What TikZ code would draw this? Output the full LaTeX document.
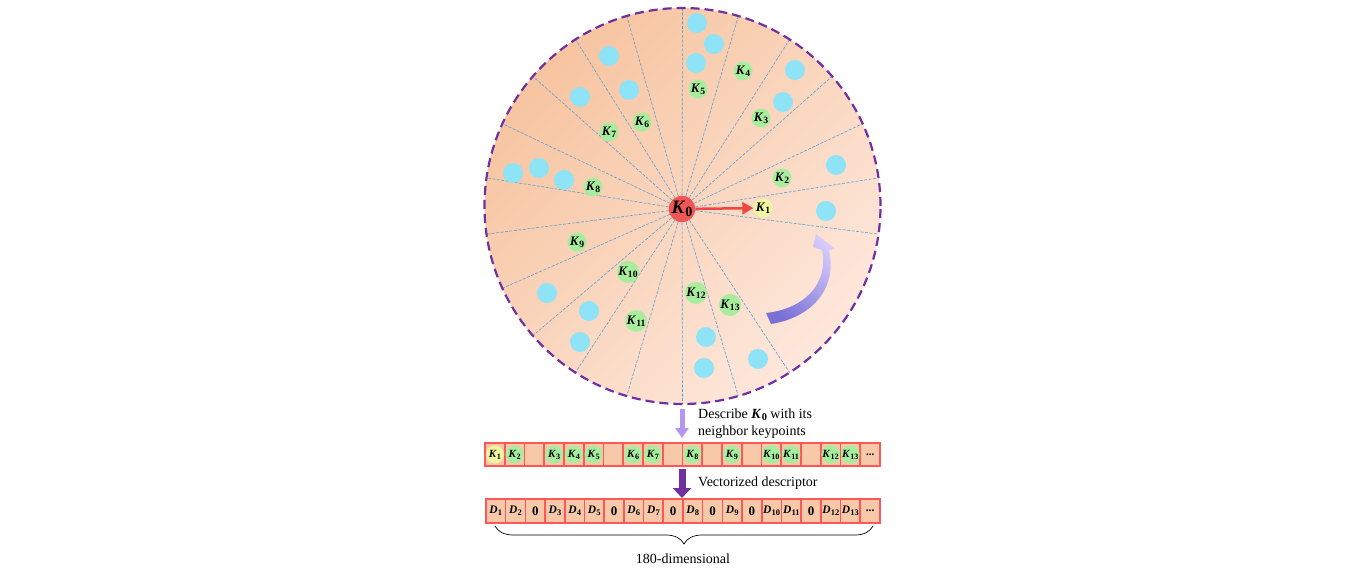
\documentclass[tikz,border=0pt]{standalone}
\usepackage{fontspec}
\usepackage{graphicx}
\setmainfont{Liberation Serif}
\usetikzlibrary{arrows.meta,decorations.pathreplacing,calc}
\definecolor{peachA}{HTML}{F7C4A0}
\definecolor{peachB}{HTML}{FDE8DC}
\definecolor{rimc}{HTML}{7030A0}
\definecolor{secc}{HTML}{5B9BD5}
\definecolor{bluec}{HTML}{8EE3F7}
\definecolor{greenc}{HTML}{A8ED9E}
\definecolor{yellowc}{HTML}{F0F5A0}
\definecolor{redc}{HTML}{F25555}
\definecolor{redarrc}{HTML}{F04545}
\definecolor{cellfill}{HTML}{F8C9A8}
\definecolor{cellrim}{HTML}{FF5757}
\definecolor{lilac}{HTML}{B596F2}
\definecolor{arcdark}{HTML}{7A70D6}
\definecolor{arclight}{HTML}{D6CBFB}
\newcommand{\subs}[1]{\kern0.2pt\raisebox{-0.4ex}{\scalebox{0.74}{\textbf{#1}}}}
\newcommand{\KL}[1]{\textbf{\textit{K}}\subs{#1}}
\newcommand{\DL}[1]{\textbf{\textit{D}}\subs{#1}}
\newcommand{\ZL}{{\fontsize{13}{13}\selectfont\textbf{0}}}
\begin{document}
\begin{tikzpicture}[x=1pt,y=-1pt,
  secline/.style={secc, line width=0.6pt, dash pattern=on 3pt off 1.5pt},
  bdot/.style={circle, fill=bluec, minimum size=20pt, inner sep=0pt},
  gdot/.style={circle, fill=greenc, minimum size=19pt, inner sep=0pt, font=\fontsize{13}{13}\selectfont},
  ydot/.style={gdot, fill=yellowc},
  kzero/.style={circle, fill=redc, minimum size=24pt, inner sep=0pt, font=\fontsize{19}{19}\selectfont},
  cellbox/.style={rectangle, draw=cellrim, fill=cellfill, line width=1.6pt, minimum width=19.75pt, inner sep=0pt, font=\fontsize{11.5}{11.5}\selectfont},
  gbar/.style={circle, fill=greenc, minimum size=18pt, inner sep=0pt, font=\fontsize{11}{11}\selectfont},
  ybar/.style={gbar, fill=yellowc},
  txt/.style={font=\fontsize{14}{17}\selectfont, inner sep=0pt}
]
\useasboundingbox (0,0) rectangle (1368,569);
\coordinate (C) at (682.5,206);
\coordinate (k0c) at (682,209);
% disc
\shade[top color=peachA, bottom color=peachB, shading angle=45] (C) circle (198pt);
% sector lines
\foreach \a in {90,73.64,57.27,40.91,24.55,8.18,-8.18,-57.27,-73.64,-90,-106.36,-122.73,-139.09,-155.45,-171.82,171.82,155.45,139.09,122.73,106.36}
  \draw[secline] (k0c) -- ($(C)+(-\a:198)$);
\draw[rimc, line width=2.2pt, dash pattern=on 9pt off 5pt] (C) circle (198pt);
% blue dots
\foreach \x/\y [count=\i] in {697/23,714/44,696/63,609/56,629/90,580/97,795/70,783/102,836/165,826/211,513/173,539/168,564/180,547/293,589/311,580/342,706/337,704/368,758/359}
  \node[bdot] (bd\i) at (\x,\y) {};
% keypoints
\node[ydot] (k1) at (763,208) {\KL{1}};
\foreach \x/\y/\n in {782/178/2,761/118/3,743/71/4,698/89/5,642/122/6,609/132/7,593/187/8,577/242/9,628/272/10,636/321/11,696/293/12,730/305/13}
  \node[gdot] (k\n) at (\x,\y) {\KL{\n}};
\node[kzero] (K0) at (k0c) {\KL{0}};
\draw[redarrc, line width=2.5pt, -{Triangle[length=11pt,width=12pt]}] (K0) -- (k1);
% curved rotation arrow
\shade[top color=arclight, bottom color=arcdark, shading angle=-45]
  (771,324) .. controls (810,318) and (838,290) .. (829,250)
  -- (835,249) -- (816,234) -- (813,247) -- (822,250)
  .. controls (829,285) and (803,309) .. (766,313) -- cycle;
% describe arrow
\coordinate (a1s) at (682,409);
\coordinate (a1e) at (682,438);
\draw[lilac, line width=5pt, -{Triangle[length=10pt,width=13pt]}] (a1s) -- (a1e);
\node[txt, anchor=west, align=left] (desc) at (698,423.5) {Describe \KL{0} with its\\neighbor keypoints};
% top bar
\foreach \i in {1,...,20}
  \node[cellbox, minimum height=23pt] (t\i) at ({485+19.75*(\i-0.5)},454.5) {};
\node[ybar] (tk1) at (t1) {\KL{1}};
\foreach \i/\n in {2/2,4/3,5/4,6/5,8/6,9/7,11/8,13/9,15/10,16/11,18/12,19/13}
  \node[gbar] (tk\i) at (t\i) {\KL{\n}};
\node[font=\fontsize{11}{11}\selectfont, inner sep=0pt] (tdots) at (t20) {\textbf{...}};
% vectorize arrow
\coordinate (a2s) at (682,469);
\coordinate (a2e) at (682,498);
\draw[rimc, line width=7pt, -{Triangle[length=10pt,width=18pt]}] (a2s) -- (a2e);
\node[txt, anchor=west] (vec) at (698,483) {Vectorized descriptor};
% bottom bar
\foreach \i/\l in {1/\DL{1},2/\DL{2},3/\ZL,4/\DL{3},5/\DL{4},6/\DL{5},7/\ZL,8/\DL{6},9/\DL{7},10/\ZL,11/\DL{8},12/\ZL,13/\DL{9},14/\ZL,15/\DL{10},16/\DL{11},17/\ZL,18/\DL{12},19/\DL{13},20/\textbf{...}}
  \node[cellbox, minimum height=24pt] (b\i) at ({486+19.7*(\i-0.5)},511) {\l};
% brace
\coordinate (brL) at (495,526);
\coordinate (brR) at (873,526);
\draw[decorate, decoration={brace, amplitude=18pt, mirror}, line width=0.7pt] (brL) -- (brR);
\node[txt] (dim) at (683,559) {180-dimensional};
\end{tikzpicture}
\end{document}
